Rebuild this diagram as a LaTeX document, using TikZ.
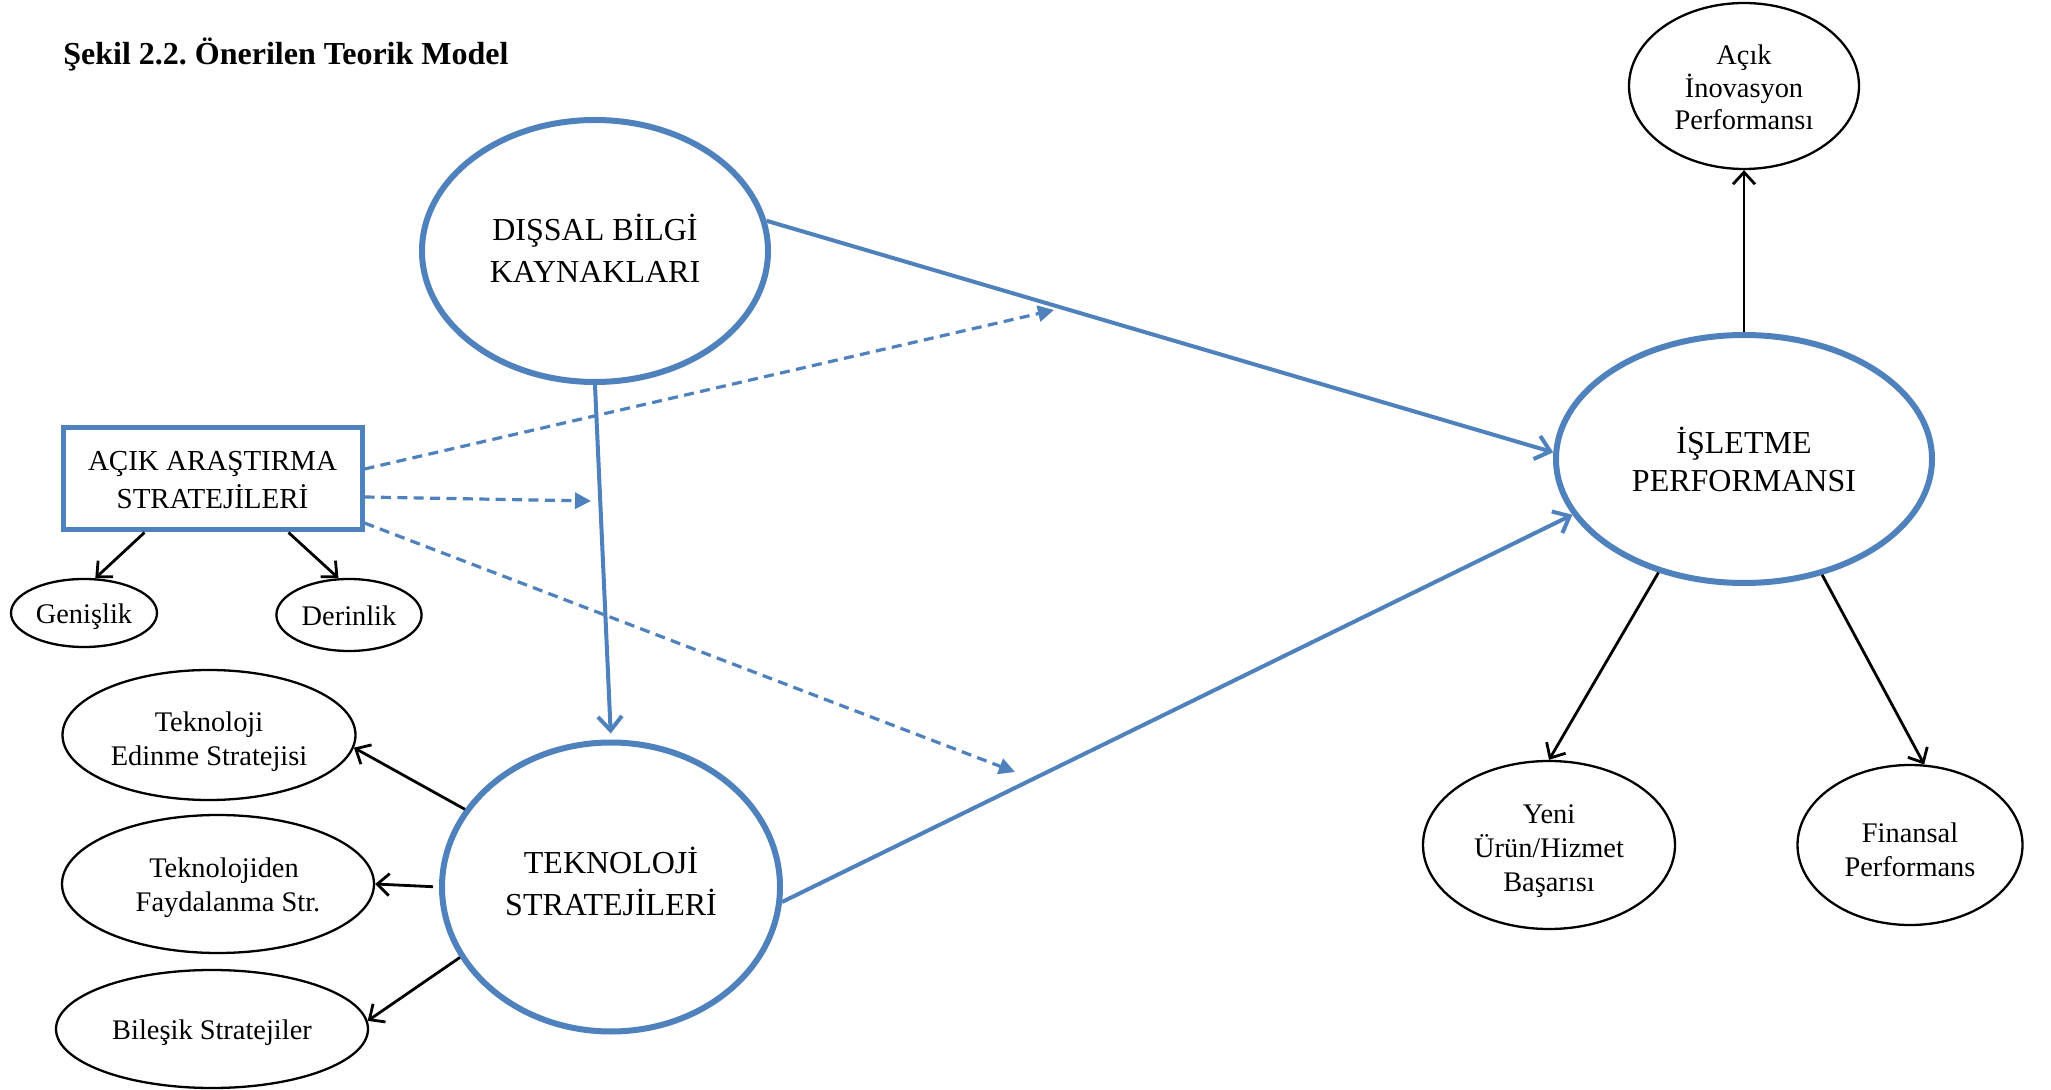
\documentclass[tikz,border=0pt]{standalone}
\usepackage{fontspec}
\setmainfont{Liberation Serif}
\usetikzlibrary{arrows.meta,shapes.geometric}
\definecolor{ofblue}{HTML}{4F81BD}
\frenchspacing
% centred lines of text, set at a given height inside their shape
\newcommand\celltext[2]{\raisebox{#1}[0pt][0pt]{\begin{tabular}{@{}c@{}}#2\end{tabular}}}

\begin{document}
\begin{tikzpicture}[x=0.5pt,y=-0.5pt,
  construct/.style={ellipse,draw=ofblue,line width=3pt,inner sep=0pt,
    font=\fontsize{16}{21}\selectfont},
  dimension/.style={ellipse,draw=black,line width=1.15pt,inner sep=0pt,
    font=\fontsize{14.2}{17}\selectfont},
  mainarrow/.style={draw=ofblue,line width=2pt,-{Straight Barb[length=7pt,width=12pt]}},
  modarrow/.style={draw=ofblue,line width=1.6pt,dash pattern=on 5pt off 3.2pt,
    -{Triangle[length=8pt,width=8pt]}},
  dimarrow/.style={draw=black,line width=1.4pt,-{Straight Barb[length=6pt,width=11pt]}}
]
\fill[white] (0,0) rectangle (2051,1090);
\useasboundingbox (0,0) rectangle (2051,1090);

% heading
\node[anchor=base west,inner sep=0pt,font=\bfseries\fontsize{16}{19}\selectfont] (title) at (63,65)
  {Şekil 2.2. Önerilen Teorik Model};

% main constructs
\node[construct,minimum width=173pt,minimum height=131pt] (dis) at (595,251)
  {\celltext{-5.3pt}{DIŞSAL BİLGİ\\KAYNAKLARI}};
\node[construct,minimum width=169pt,minimum height=144.5pt] (tek) at (611,887)
  {\celltext{-4pt}{TEKNOLOJİ\\STRATEJİLERİ}};
\node[construct,minimum width=188pt,minimum height=124pt,font=\fontsize{16}{19}\selectfont] (isl) at (1744,459)
  {\celltext{-7.3pt}{İŞLETME\\PERFORMANSI}};
\node[rectangle,draw=ofblue,line width=2.5pt,inner sep=0pt,
  minimum width=149.5pt,minimum height=51pt,font=\fontsize{14.5}{19}\selectfont] (box) at (212.5,479)
  {\celltext{-4.9pt}{AÇIK ARAŞTIRMA\\STRATEJİLERİ}};

% dimensions
\node[dimension,minimum width=73pt,minimum height=34pt] (gen) at (84,613)
  {\celltext{-5.5pt}{Genişlik}};
\node[dimension,minimum width=72.6pt,minimum height=36pt] (der) at (349,615)
  {\celltext{-5.5pt}{Derinlik}};
\node[dimension,minimum width=146.5pt,minimum height=65pt] (edin) at (209,735)
  {\celltext{-6.8pt}{Teknoloji\\Edinme Stratejisi}};
\node[dimension,minimum width=156pt,minimum height=69pt] (fay) at (218,884)
  {\celltext{-5.5pt}{\hspace*{6pt}Teknolojiden\\\hspace*{10pt}Faydalanma Str.}};
\node[dimension,minimum width=156pt,minimum height=59pt] (bil) at (212,1029)
  {\celltext{-5.5pt}{Bileşik Stratejiler}};
\node[dimension,minimum width=115pt,minimum height=83pt,font=\fontsize{14.2}{16.2}\selectfont] (acik) at (1744,86)
  {\celltext{-5.8pt}{Açık\\İnovasyon\\Performansı}};
\node[dimension,minimum width=126pt,minimum height=84pt] (yeni) at (1549,845)
  {\celltext{-6.6pt}{Yeni\\Ürün/Hizmet\\Başarısı}};
\node[dimension,minimum width=112.5pt,minimum height=80pt] (fin) at (1910,845)
  {\celltext{-7.4pt}{Finansal\\Performans}};

% free ends of the moderating arrows
\coordinate (m1) at (1054,310);
\coordinate (m2) at (591,501);
\coordinate (m3) at (1015,772);

% structural paths
\draw[mainarrow] (dis.10) -- (isl.178);
\draw[mainarrow] (tek.-5) -- (isl.198);
\draw[mainarrow,shorten >=3pt] (dis.south) -- (tek.north);

% moderating effects
\draw[modarrow] ([yshift=5pt]box.east) -- (m1);
\draw[modarrow] ([yshift=-9pt]box.east) -- (m2);
\draw[modarrow] ([yshift=-22pt]box.east) -- (m3);

% measurement arrows
\draw[dimarrow] ([xshift=-34pt]box.south) -- (gen.72);
\draw[dimarrow] ([xshift=38pt]box.south) -- (der.106);
\draw[dimarrow] (tek.152) -- (edin.-5);
\draw[dimarrow,shorten <=3pt] (tek.west) -- (fay.east);
\draw[dimarrow] (tek.205) -- (bil.3);
\draw[dimarrow] (isl.north) -- (acik.south);
\draw[dimarrow] (isl.-127.6) -- (yeni.north);
\draw[dimarrow] (isl.-56) -- (fin.80);
\end{tikzpicture}
\end{document}
